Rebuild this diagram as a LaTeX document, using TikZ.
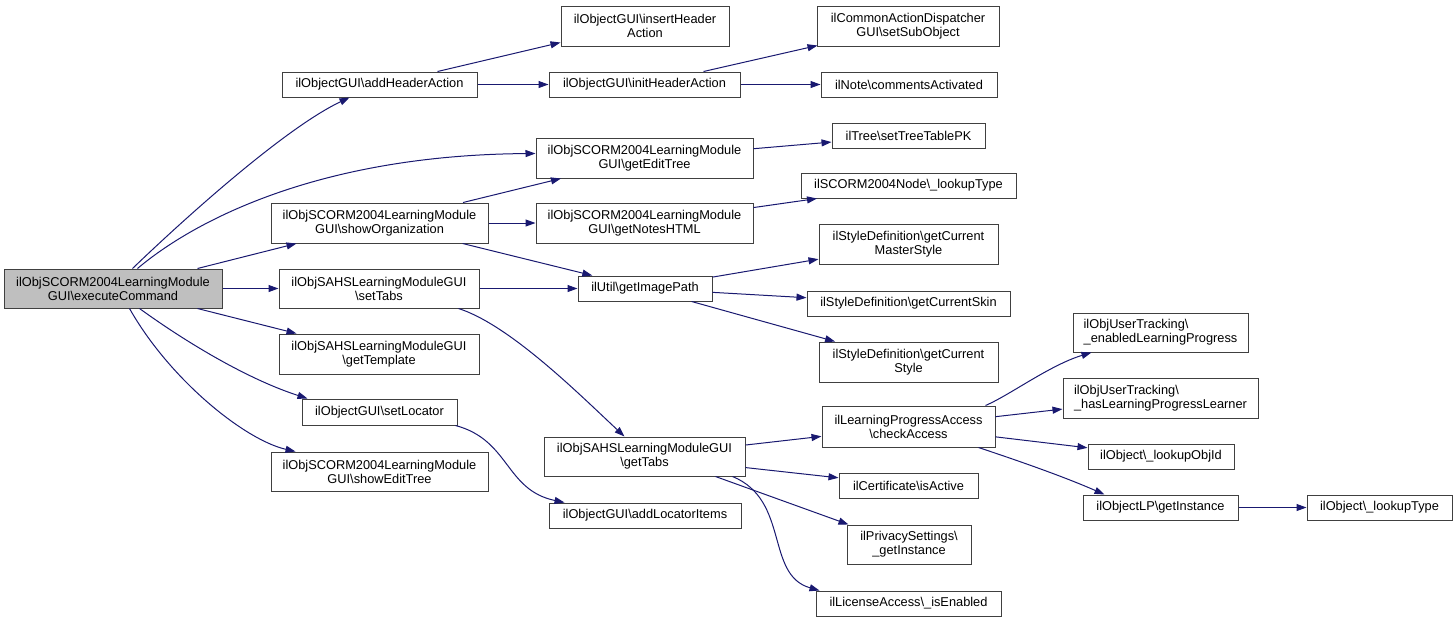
\documentclass[tikz,border=0pt]{standalone}
\usepackage{fontspec}
\setmainfont{Liberation Sans}
\usetikzlibrary{arrows.meta}
\definecolor{edgec}{HTML}{191970}
\definecolor{bordc}{HTML}{404040}
\definecolor{rootc}{HTML}{BFBFBF}
\newcommand{\bsl}{\textbackslash}
\newcommand{\bx}[7][]{\node[box,#1,minimum width={(#5-#3)*1pt},minimum height={(#6-#4)*1pt}] (#2) at ({(#3+#5)/2},{(#4+#6)/2}) {#7};}
\tikzset{
  box/.style={draw=bordc, fill=white, line width=1pt, inner sep=0pt, align=center,
    font=\fontsize{12.8}{14}\selectfont, text=black},
  e/.style={draw=edgec, line width=1pt, -{Triangle[length=10pt,width=7pt]}}
}
\begin{document}
\begin{tikzpicture}[x=1pt,y=-1pt]
\useasboundingbox (0,0) rectangle (1456,622);
% column 0
\bx[fill=rootc]{exec}{4}{269}{222}{308}{ilObjSCORM2004LearningModule\\GUI\bsl executeCommand}
% column 1
\bx{addH}{282}{72}{477}{97}{ilObjectGUI\bsl addHeaderAction}
\bx{showOrg}{271}{203}{488}{243}{ilObjSCORM2004LearningModule\\GUI\bsl showOrganization}
\bx{setTabs}{279}{269}{479}{308}{ilObjSAHSLearningModuleGUI\\\bsl setTabs}
\bx{getTemplate}{279}{334}{479}{374}{ilObjSAHSLearningModuleGUI\\\bsl getTemplate}
\bx{setLocator}{302}{399}{457}{425}{ilObjectGUI\bsl setLocator}
\bx{showEditTree}{271}{452}{488}{491}{ilObjSCORM2004LearningModule\\GUI\bsl showEditTree}
% column 2
\bx{insertH}{561}{6}{729}{46}{ilObjectGUI\bsl insertHeader\\Action}
\bx{initH}{549}{72}{740}{97}{ilObjectGUI\bsl initHeaderAction}
\bx{getEditTree}{536}{138}{753}{178}{ilObjSCORM2004LearningModule\\GUI\bsl getEditTree}
\bx{getNotes}{536}{203}{753}{243}{ilObjSCORM2004LearningModule\\GUI\bsl getNotesHTML}
\bx{getImagePath}{578}{276}{712}{301}{ilUtil\bsl getImagePath}
\bx{getTabs}{544}{437}{745}{476}{ilObjSAHSLearningModuleGUI\\\bsl getTabs}
\bx{addLocItems}{549}{503}{741}{528}{ilObjectGUI\bsl addLocatorItems}
% column 3
\bx{setSub}{817}{6}{999}{46}{ilCommonActionDispatcher\\GUI\bsl setSubObject}
\bx{comments}{821}{72}{997}{97}{ilNote\bsl commentsActivated}
\bx{setTreePK}{832}{123}{985}{148}{ilTree\bsl setTreeTablePK}
\bx{scormLookup}{801}{173}{1016}{198}{ilSCORM2004Node\bsl\_lookupType}
\bx{masterStyle}{819}{224}{998}{264}{ilStyleDefinition\bsl getCurrent\\MasterStyle}
\bx{curSkin}{807}{291}{1010}{316}{ilStyleDefinition\bsl getCurrentSkin}
\bx{curStyle}{819}{342}{998}{382}{ilStyleDefinition\bsl getCurrent\\Style}
\bx{checkAccess}{822}{406}{995}{447}{ilLearningProgressAccess\\\bsl checkAccess}
\bx{isActive}{839}{473}{978}{498}{ilCertificate\bsl isActive}
\bx{privacy}{847}{525}{971}{564}{ilPrivacySettings\bsl\\\_getInstance}
\bx{license}{816}{591}{1001}{616}{ilLicenseAccess\bsl\_isEnabled}
% column 4
\bx[align=left]{enabledLP}{1073}{313}{1248}{352}{ilObjUserTracking\bsl\\\_enabledLearningProgress}
\bx[align=left]{hasLP}{1063}{378}{1258}{418}{ilObjUserTracking\bsl\\\_hasLearningProgressLearner}
\bx{lookupObjId}{1088}{444}{1234}{469}{ilObject\bsl\_lookupObjId}
\bx{lpInstance}{1083}{495}{1238}{520}{ilObjectLP\bsl getInstance}
% column 5
\bx{objLookupType}{1307}{495}{1452}{520}{ilObject\bsl\_lookupType}
% edges from executeCommand
\draw[e] ([xshift=129pt]exec.north west) .. controls (185,218) and (285,128) .. ([xshift=68pt]addH.south west);
\draw[e] ([xshift=134pt]exec.north west) .. controls (195,220) and (320,155) .. ([yshift=4.5pt]getEditTree.west);
\draw[e] ([xshift=-25pt]exec.north east) -- ([xshift=26pt]showOrg.south west);
\draw[e] (exec) -- (setTabs);
\draw[e] ([xshift=-25pt]exec.south east) -- ([xshift=18pt]getTemplate.north west);
\draw[e] ([xshift=136pt]exec.south west) .. controls (190,345) and (250,380) .. ([xshift=6pt]setLocator.north west);
\draw[e] ([xshift=126pt]exec.south west) .. controls (170,380) and (245,440) .. ([xshift=25pt]showEditTree.north west);
% column 1 -> 2
\draw[e] ([xshift=-40pt]addH.north east) -- ([yshift=4pt]insertH.south west);
\draw[e] (addH) -- (initH);
\draw[e] (showOrg) -- (getEditTree);
\draw[e] (showOrg) -- (getNotes);
\draw[e] (showOrg) -- (getImagePath);
\draw[e] (setTabs) -- (getImagePath);
\draw[e] ([xshift=180pt]setTabs.south west) .. controls (510,325) and (580,395) .. ([xshift=81pt]getTabs.north west);
\draw[e] ([xshift=-2pt]setLocator.south east) .. controls (510,440) and (505,490) .. ([xshift=16pt]addLocItems.north west);
% column 2 -> 3
\draw[e] ([xshift=-37pt]initH.north east) -- ([xshift=1pt,yshift=1pt]setSub.south west);
\draw[e] (initH) -- (comments);
\draw[e] (getEditTree) -- (setTreePK);
\draw[e] (getNotes) -- (scormLookup);
\draw[e] (getImagePath) -- (masterStyle);
\draw[e] (getImagePath) -- (curSkin);
\draw[e] (getImagePath) -- (curStyle);
\draw[e] (getTabs) -- (checkAccess);
\draw[e] (getTabs) -- (isActive);
\draw[e] ([xshift=-30pt]getTabs.south east) -- ([xshift=2pt]privacy.north west);
\draw[e] ([xshift=-13pt]getTabs.south east) .. controls (790,500) and (765,575) .. ([xshift=4pt]license.north west);
% column 3 -> 4
\draw[e] ([xshift=-10pt]checkAccess.north east) .. controls (1010,395) and (1050,365) .. ([xshift=19pt]enabledLP.south west);
\draw[e] (checkAccess) -- (hasLP);
\draw[e] (checkAccess) -- (lookupObjId);
\draw[e] ([xshift=-17pt]checkAccess.south east) .. controls (1010,458) and (1060,475) .. ([xshift=22pt]lpInstance.north west);
% column 4 -> 5
\draw[e] (lpInstance) -- (objLookupType);
\end{tikzpicture}
\end{document}
